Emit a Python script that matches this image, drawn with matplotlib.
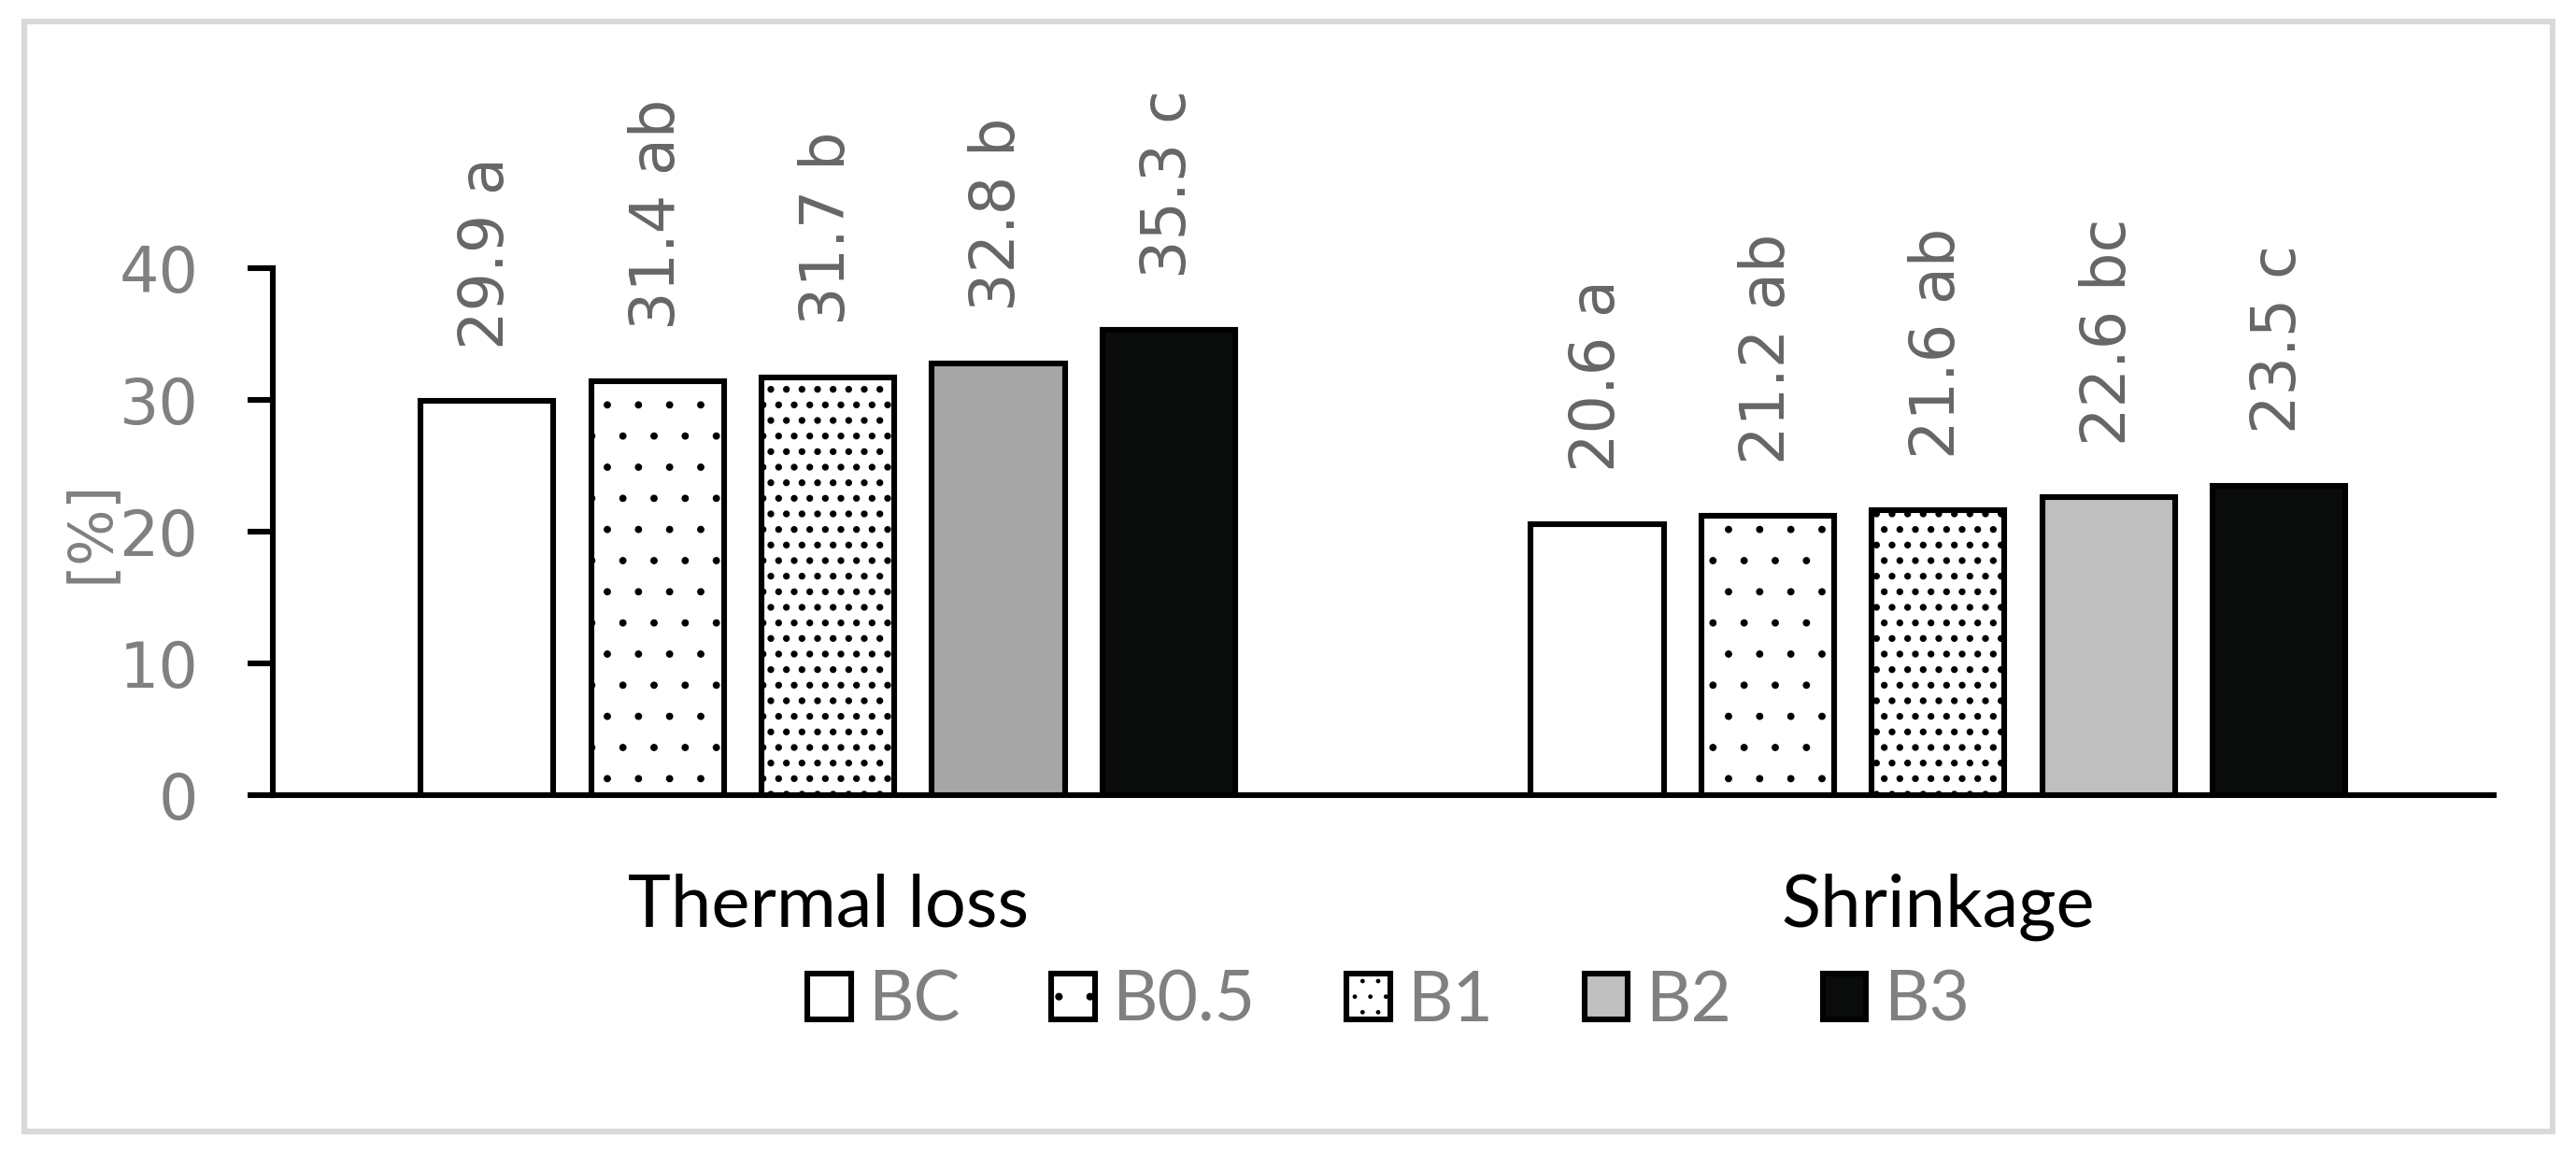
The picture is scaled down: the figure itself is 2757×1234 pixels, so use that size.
import matplotlib
matplotlib.use('agg')
import matplotlib.pyplot as plt
from matplotlib.patches import Patch, Rectangle
import numpy as np

# data
categories = ['Thermal loss', 'Shrinkage']
series = ['BC', 'B0.5', 'B1', 'B2', 'B3']
values = {
    'BC':   [29.9, 20.6],
    'B0.5': [31.4, 21.2],
    'B1':   [31.7, 21.6],
    'B2':   [32.8, 22.6],
    'B3':   [35.3, 23.5],
}
letters = {
    'BC':   ['a', 'a'],
    'B0.5': ['ab', 'ab'],
    'B1':   ['b', 'ab'],
    'B2':   ['b', 'bc'],
    'B3':   ['c', 'c'],
}

# styles
face = {'BC': ['white', 'white'], 'B0.5': ['white', 'white'], 'B1': ['white', 'white'],
        'B2': ['#a6a6a6', '#bfbfbf'], 'B3': ['#0a0c0c', '#0a0c0c']}
legend_face = {'BC': 'white', 'B0.5': 'white', 'B1': 'white', 'B2': '#c0c0c0', 'B3': '#0a0c0c'}
hatches = {'BC': None, 'B0.5': '.', 'B1': '..', 'B2': None, 'B3': None}
hatch_lw = {'BC': 0.5, 'B0.5': 0.4, 'B1': 1.4, 'B2': 0.5, 'B3': 0.5}

plt.rcParams['hatch.color'] = 'black'

fig = plt.figure(figsize=(13.785, 6.17), dpi=200)
ax = fig.add_axes([0.1059, 0.3104, 0.862, 0.457])

x = np.arange(len(categories))
step = 0.1535
width = 0.1197
lw = 2.2

for i, s in enumerate(series):
    plt.rcParams['hatch.linewidth'] = hatch_lw[s]
    xs = x + (i - 2) * step
    bars = ax.bar(xs, values[s], width, color=face[s], edgecolor='black',
                  linewidth=lw, hatch=hatches[s], zorder=3)
    for b, v, l in zip(bars, values[s], letters[s]):
        ax.annotate('%.1f %s' % (v, l), (b.get_x() + b.get_width() / 2, v),
                    xytext=(0, 20), textcoords='offset points', rotation=90,
                    ha='center', va='bottom', fontsize=23.5, color='#666666',
                    family='DejaVu Sans')

ax.set_xlim(-0.5, 1.5)
ax.set_ylim(0, 40)
ax.set_yticks([0, 10, 20, 30, 40])
ax.tick_params(axis='y', length=9.7, width=lw, pad=19, labelsize=24, labelcolor='#808080')
ax.set_xticks(x)
ax.set_xticklabels(categories, fontsize=28, family='Lato', color='black')
ax.tick_params(axis='x', length=0, pad=30)
for sp in ['top', 'right']:
    ax.spines[sp].set_visible(False)
for sp in ['left', 'bottom']:
    ax.spines[sp].set_linewidth(lw)
    ax.spines[sp].set_color('black')

ax.set_ylabel('[%]', fontsize=23, color='#808080')
ax.yaxis.set_label_coords(-0.069, 0.5)

handles = []
for s in series:
    plt.rcParams['hatch.linewidth'] = hatch_lw[s]
    handles.append(Patch(facecolor=legend_face[s], edgecolor='black', linewidth=lw,
                         hatch=hatches[s]))
leg = fig.legend(handles, series, loc='center', bbox_to_anchor=(0.539, 0.132), ncol=5,
                 frameon=False, prop={'family': 'Lato', 'size': 27},
                 handlelength=0.62, handleheight=0.62, handletextpad=0.25, columnspacing=1.3)
for t in leg.get_texts():
    t.set_color('#808080')

# chart frame
fig.patches.append(Rectangle((26 / 2757, 23 / 1234), 2706 / 2757, 1188 / 1234,
                             transform=fig.transFigure, fill=False,
                             edgecolor='#d9d9d9', linewidth=2.2))

fig.savefig('out.png', dpi=200)
